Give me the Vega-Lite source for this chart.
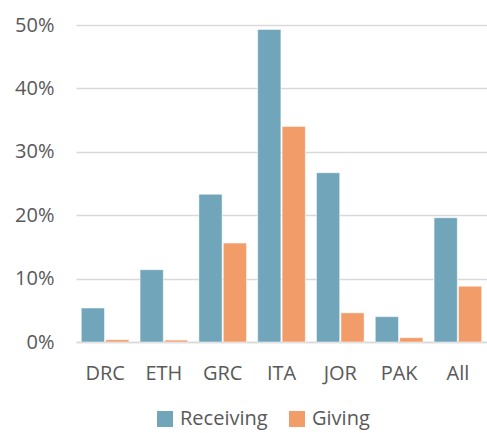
{
  "$schema": "https://vega.github.io/schema/vega-lite/v6.json",
  "autosize": "none",
  "width": 411,
  "height": 317,
  "padding": {"left": 76, "top": 25, "right": 0, "bottom": 91},
  "background": "white",
  "config": {
    "view": {"stroke": null},
    "font": "Open Sans"
  },
  "data": {
    "values": [
      {"country": "DRC", "type": "Receiving", "value": 0.0536},
      {"country": "DRC", "type": "Giving", "value": 0.0036},
      {"country": "ETH", "type": "Receiving", "value": 0.114},
      {"country": "ETH", "type": "Giving", "value": 0.003},
      {"country": "GRC", "type": "Receiving", "value": 0.233},
      {"country": "GRC", "type": "Giving", "value": 0.156},
      {"country": "ITA", "type": "Receiving", "value": 0.493},
      {"country": "ITA", "type": "Giving", "value": 0.340},
      {"country": "JOR", "type": "Receiving", "value": 0.267},
      {"country": "JOR", "type": "Giving", "value": 0.046},
      {"country": "PAK", "type": "Receiving", "value": 0.040},
      {"country": "PAK", "type": "Giving", "value": 0.0068},
      {"country": "All", "type": "Receiving", "value": 0.196},
      {"country": "All", "type": "Giving", "value": 0.088}
    ]
  },
  "mark": {"type": "bar", "stroke": "white", "strokeWidth": 0.5},
  "encoding": {
    "x": {
      "field": "country",
      "type": "nominal",
      "sort": ["DRC", "ETH", "GRC", "ITA", "JOR", "PAK", "All"],
      "scale": {"paddingInner": 0.19, "paddingOuter": 0.09},
      "axis": {
        "title": null,
        "labelAngle": 0,
        "labelFontSize": 20,
        "labelColor": "#595959",
        "labelPadding": 21,
        "ticks": false,
        "domainColor": "#D9D9D9",
        "domainWidth": 1.5
      }
    },
    "xOffset": {
      "field": "type",
      "type": "nominal",
      "sort": ["Receiving", "Giving"],
      "scale": {"paddingInner": 0.05}
    },
    "y": {
      "field": "value",
      "type": "quantitative",
      "scale": {"domain": [0, 0.5]},
      "axis": {
        "title": null,
        "format": ".0%",
        "values": [0, 0.1, 0.2, 0.3, 0.4, 0.5],
        "labelFontSize": 20,
        "labelColor": "#595959",
        "labelPadding": 22,
        "ticks": false,
        "domain": false,
        "gridColor": "#D9D9D9",
        "gridWidth": 1.5
      }
    },
    "color": {
      "field": "type",
      "type": "nominal",
      "sort": ["Receiving", "Giving"],
      "scale": {"domain": ["Receiving", "Giving"], "range": ["#71A5BA", "#F29C69"]},
      "legend": {
        "title": null,
        "orient": "none",
        "legendX": 79,
        "legendY": 384,
        "direction": "horizontal",
        "symbolType": "square",
        "symbolSize": 256,
        "symbolStrokeWidth": 0,
        "labelFontSize": 20,
        "labelColor": "#595959",
        "labelOffset": 5,
        "columnPadding": 19
      }
    }
  }
}
